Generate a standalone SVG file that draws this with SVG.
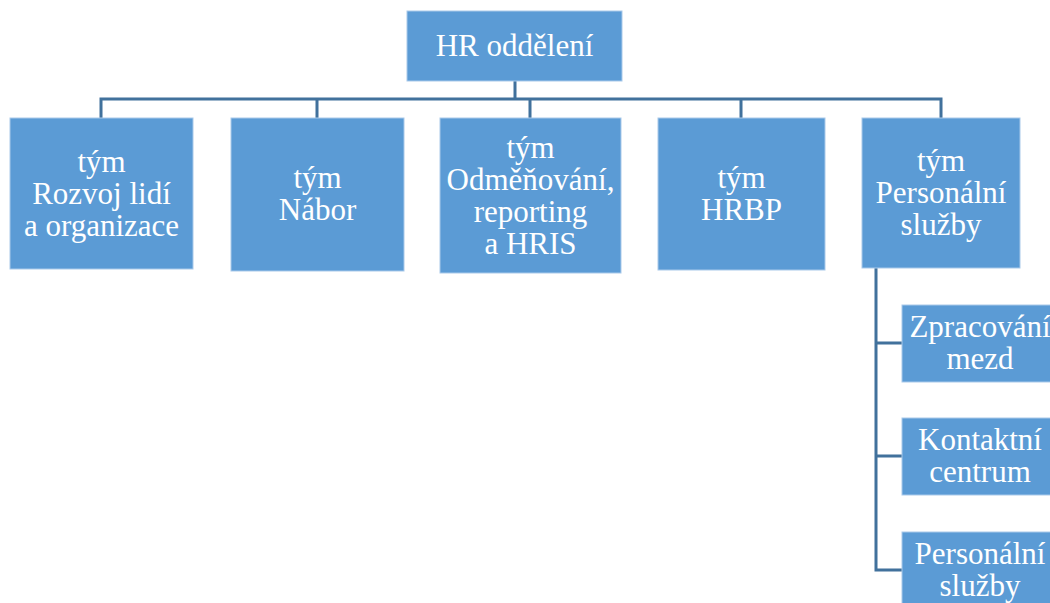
<svg xmlns="http://www.w3.org/2000/svg" width="1050" height="603" viewBox="0 0 1050 603">
<style>
.box{fill:#5B9BD5;stroke:#A9C9EA;stroke-width:1}
.t{font-family:"Liberation Serif","Times New Roman",serif;font-size:31px;fill:#FFFFFF;text-anchor:middle}
.c{fill:none;stroke:#41719C;stroke-width:3}
</style>
<rect width="1050" height="603" fill="#FFFFFF"/>
<g id="connectors">
<path class="c" d="M515,81V99M101,118V99H941V118M317,99V118M530,99V118M741,99V118"/>
<path class="c" d="M876,268V570H902M876,343H902M876,456H902"/>
</g>
<g id="n0"><rect class="box" x="407" y="11" width="215" height="70"/><text class="t" x="514.5" y="56">HR oddělení</text></g>
<g id="n1"><rect class="box" x="10" y="118" width="183" height="151"/><text class="t" x="101.5"><tspan x="101.5" y="171.5">tým</tspan><tspan x="101.5" y="203.5">Rozvoj lidí</tspan><tspan x="101.5" y="235.5">a organizace</tspan></text></g>
<g id="n2"><rect class="box" x="231" y="118" width="173" height="153"/><text class="t"><tspan x="317.5" y="188">tým</tspan><tspan x="317.5" y="220">Nábor</tspan></text></g>
<g id="n3"><rect class="box" x="440" y="118" width="181" height="155"/><text class="t"><tspan x="530.5" y="157.5">tým</tspan><tspan x="530.5" y="189.5">Odměňování,</tspan><tspan x="530.5" y="221.5">reporting</tspan><tspan x="530.5" y="253.5">a HRIS</tspan></text></g>
<g id="n4"><rect class="box" x="658" y="118" width="167" height="152"/><text class="t"><tspan x="741.5" y="188">tým</tspan><tspan x="741.5" y="220">HRBP</tspan></text></g>
<g id="n5"><rect class="box" x="862" y="118" width="158" height="150"/><text class="t"><tspan x="941" y="171">tým</tspan><tspan x="941" y="203">Personální</tspan><tspan x="941" y="235">služby</tspan></text></g>
<g id="n6"><rect class="box" x="902" y="305" width="156" height="77"/><text class="t"><tspan x="980" y="337">Zpracování</tspan><tspan x="980" y="369">mezd</tspan></text></g>
<g id="n7"><rect class="box" x="902" y="418" width="156" height="77"/><text class="t"><tspan x="980" y="450">Kontaktní</tspan><tspan x="980" y="482">centrum</tspan></text></g>
<g id="n8"><rect class="box" x="902" y="532" width="156" height="77"/><text class="t"><tspan x="980" y="564">Personální</tspan><tspan x="980" y="596">služby</tspan></text></g>
</svg>
